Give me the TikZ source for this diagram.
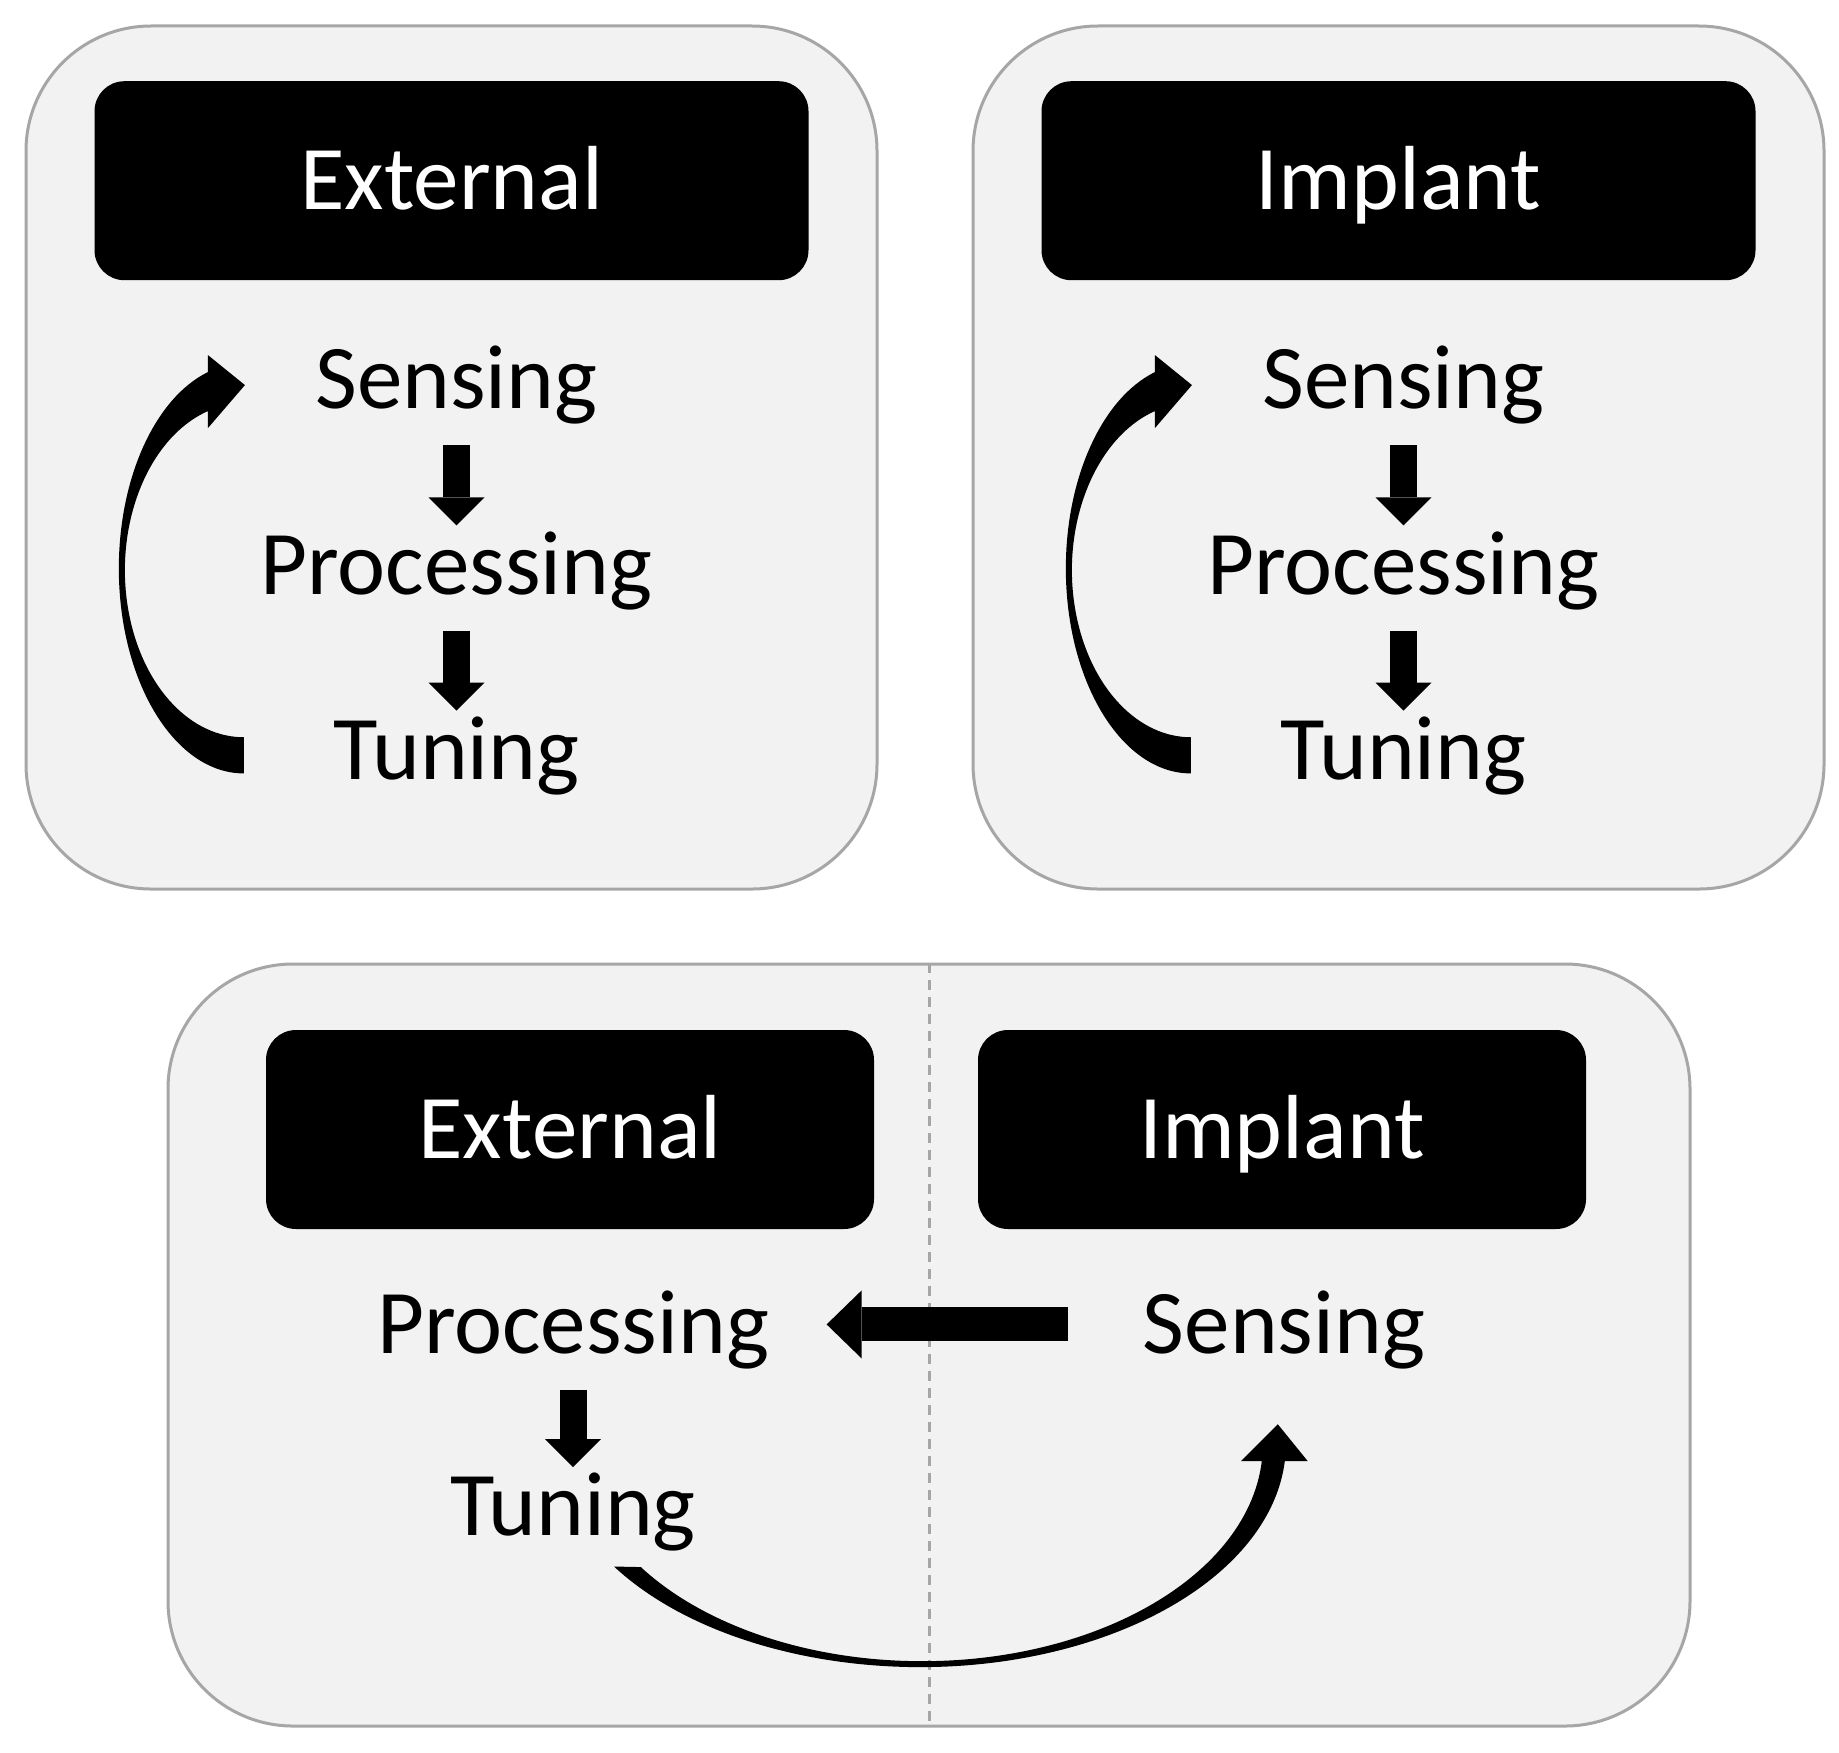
\documentclass[tikz,border=0pt]{standalone}
\usepackage{fontspec}
\setmainfont{Carlito}
\usetikzlibrary{positioning, arrows.meta, calc}
\definecolor{panelgray}{RGB}{242,242,242}
\definecolor{bordergray}{RGB}{166,166,166}
\newcommand{\stagefont}{\fontsize{25.9}{31}\selectfont}

\begin{document}
\begin{tikzpicture}[
    x=1cm, y=-1cm,
    panel/.style={rectangle, draw=bordergray, line width=0.03cm, fill=panelgray, rounded corners=1.25cm, inner sep=0pt},
    header/.style={rectangle, fill=black, text=white, rounded corners=0.3cm, minimum width=7.14cm, minimum height=1.99cm, font=\stagefont, text height=0.58cm, text depth=0pt, inner sep=0pt},
    stage/.style={font=\stagefont, text height=0.58cm, text depth=0pt, inner sep=0pt},
    downarrow/.style={line width=0.27cm, -{Triangle[width=0.56cm, length=0.28cm, line width=0pt]}, shorten <=0.36cm, shorten >=0.10cm},
    sidearrow/.style={line width=0.34cm, -{Triangle[width=0.68cm, length=0.35cm, line width=0pt]}},
    divider/.style={draw=bordergray, line width=0.03cm, dash pattern=on 0.10cm off 0.07cm},
]

\path[fill=white] (0,0) rectangle (18.39,17.52);
\useasboundingbox (0,0) rectangle (18.39,17.52);

% ============ panels ============
\node[panel, minimum width=8.51cm, minimum height=8.63cm] (panelA) at (4.515,4.575) {};
\node[panel, minimum width=8.51cm, minimum height=8.63cm] (panelB) at (13.985,4.575) {};
\node[panel, minimum width=15.22cm, minimum height=7.62cm] (panelC) at (9.29,13.45) {};
\draw[divider] (panelC.north) -- (panelC.south);

% ============ External only (top left) ============
\node[header, below=0.56cm of panelA.north] (headA) {External};
\node[stage, below=0.69cm of headA, xshift=0.05cm] (sensA) {Sensing};
\node[stage, below=1.26cm of sensA] (procA) {Processing};
\node[stage, below=1.26cm of procA] (tuneA) {Tuning};

% ============ Implant only (top right) ============
\node[header, below=0.56cm of panelB.north] (headB) {Implant};
\node[stage, below=0.69cm of headB, xshift=0.05cm] (sensB) {Sensing};
\node[stage, below=1.26cm of sensB] (procB) {Processing};
\node[stage, below=1.26cm of procB] (tuneB) {Tuning};

% ============ split (bottom) ============
\node[header, minimum width=6.08cm] (headC) at (5.70,11.295) {External};
\node[header, minimum width=6.08cm] (headD) at (12.82,11.295) {Implant};
\node[stage, below=0.65cm of headC, xshift=0.03cm] (procC) {Processing};
\node[stage, below=1.23cm of procC] (tuneC) {Tuning};
\node[stage, below=0.65cm of headD, xshift=0.02cm] (sensD) {Sensing};

% ============ arrows ============
\draw[downarrow] (sensA) -- (procA);
\draw[downarrow] (procA) -- (tuneA);
\draw[downarrow] (sensB) -- (procB);
\draw[downarrow] (procB) -- (tuneB);
\draw[downarrow] (procC) -- (tuneC);
\draw[sidearrow, shorten <=0.74cm, shorten >=0.57cm] (sensD) -- (procC);

% loop back Tuning -> Sensing
\fill ($(tuneA.west)+(-0.89,0.23)$) arc[start angle=90, end angle=253.3, x radius=1.25, y radius=2.05]
    -- ++(0,-0.17) -- ++(0.37,0.30) -- ++(-0.37,0.43) -- ++(0,-0.17)
    arc[start angle=252.4, end angle=90, x radius=1.19, y radius=1.67] -- cycle;
\fill ($(tuneB.west)+(-0.89,0.23)$) arc[start angle=90, end angle=253.3, x radius=1.25, y radius=2.05]
    -- ++(0,-0.17) -- ++(0.37,0.30) -- ++(-0.37,0.43) -- ++(0,-0.17)
    arc[start angle=252.4, end angle=90, x radius=1.19, y radius=1.67] -- cycle;

% Tuning (external) -> Sensing (implant)
\fill ($(tuneC.south)+(0.41,0.30)$) arc[start angle=146.7, end angle=4.4, x radius=3.66, y radius=2.23]
    -- ++(0.23,0) -- ++(-0.30,-0.37) -- ++(-0.37,0.37) -- ++(0.21,0)
    arc[start angle=4.5, end angle=145.5, x radius=3.41, y radius=2.17] -- cycle;

\end{tikzpicture}
\end{document}
